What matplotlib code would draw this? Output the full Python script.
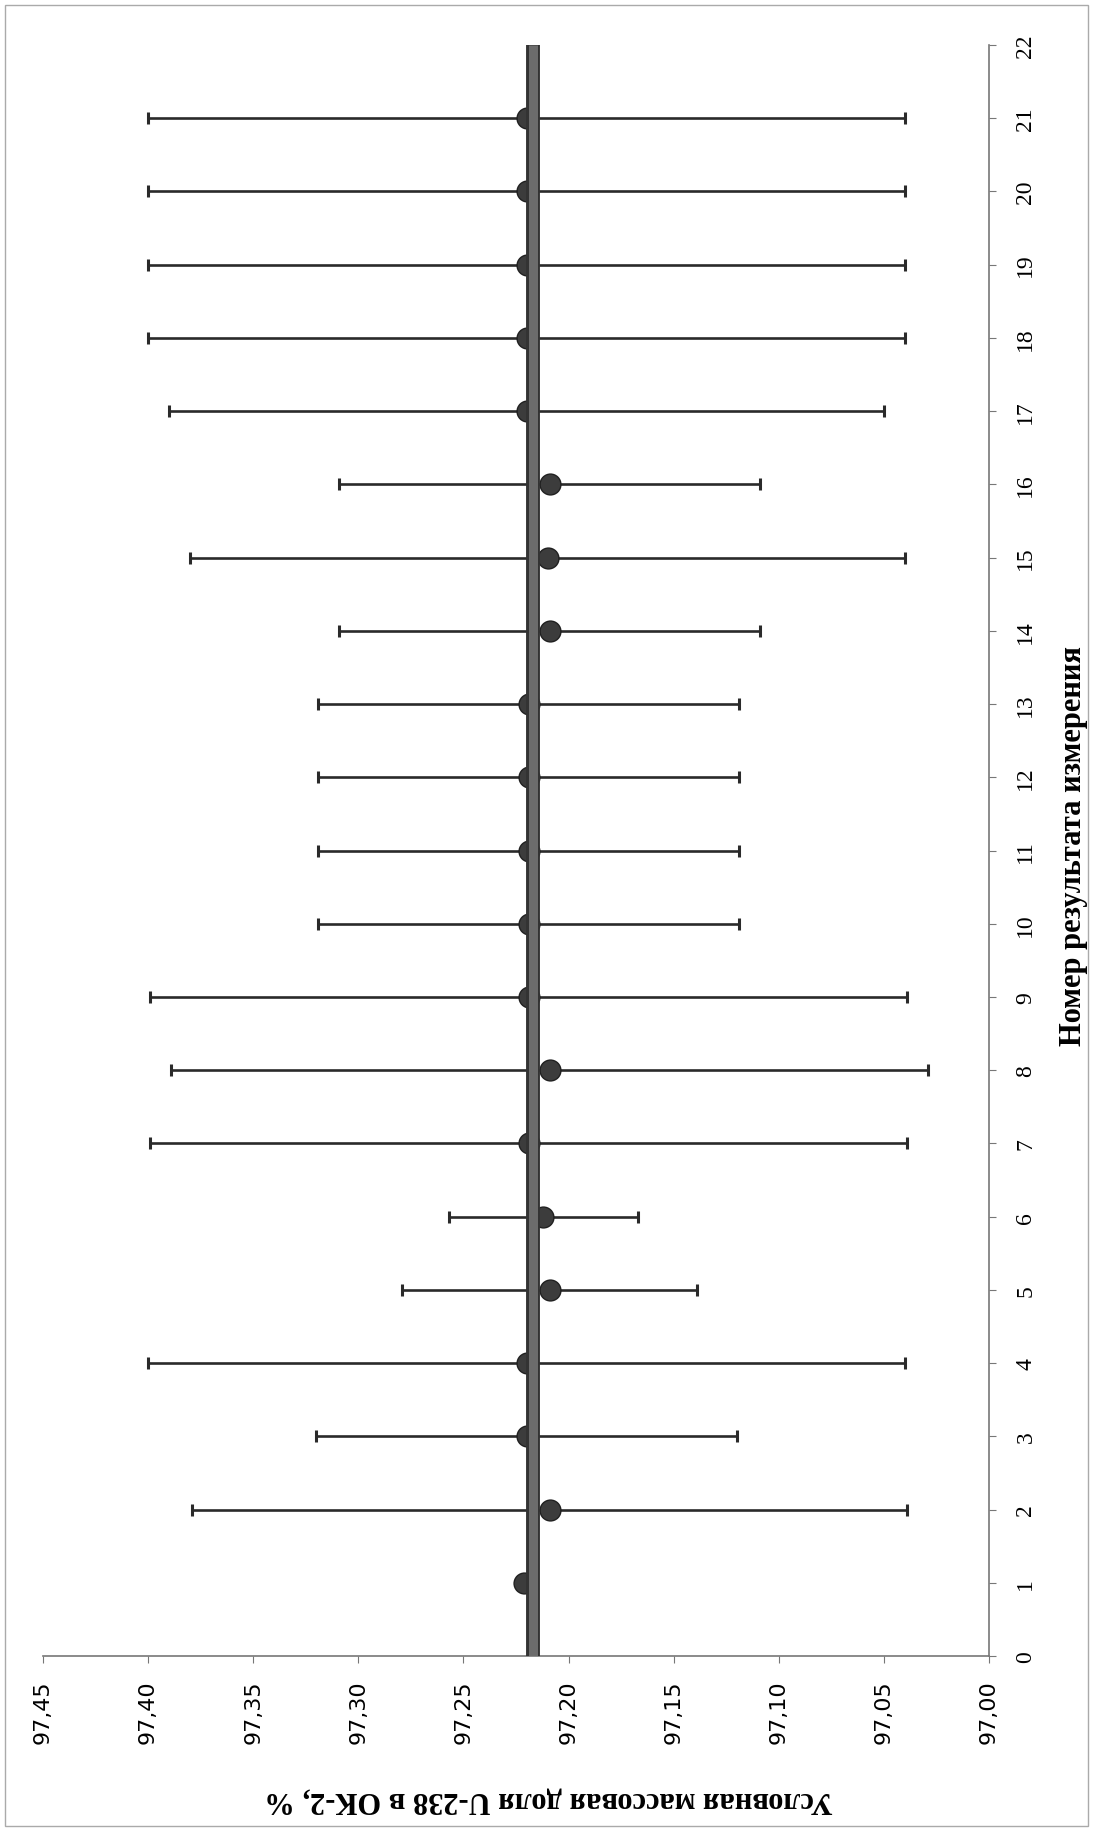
import matplotlib
matplotlib.use('Agg')
import matplotlib.pyplot as plt
from matplotlib.patches import Rectangle

# measurement numbers, values (%) and half-widths of the uncertainty bars
numbers = list(range(1, 22))
values = [97.221, 97.209, 97.220, 97.220, 97.209, 97.212, 97.219, 97.209,
          97.219, 97.219, 97.219, 97.219, 97.219, 97.209, 97.210, 97.209,
          97.220, 97.220, 97.220, 97.220, 97.220]
errors = [0.0, 0.17, 0.10, 0.18, 0.07, 0.045, 0.18, 0.18, 0.18, 0.10, 0.10,
          0.10, 0.10, 0.10, 0.17, 0.10, 0.17, 0.18, 0.18, 0.18, 0.18]
ref_value = 97.217
value_ticks = [97.45, 97.40, 97.35, 97.30, 97.25, 97.20, 97.15, 97.10, 97.05, 97.00]
number_ticks = list(range(0, 23))

fig = plt.figure(figsize=(10.94, 18.31), dpi=100)
ax = fig.add_axes([43 / 1094, 1 - 1657 / 1831, (989 - 43) / 1094, (1657 - 46) / 1831])

# error bars (point 1 has none)
for n, v, e in zip(numbers, values, errors):
    if e > 0:
        ax.errorbar(v, n, xerr=e, fmt='none', ecolor='#2a2a2a', elinewidth=1.9,
                    capsize=4, capthick=2.2, zorder=2)

ax.plot(values, numbers, 'o', color='#3c3c3c', markeredgecolor='#202020',
        markersize=15, zorder=3)

# reference value line
ax.plot([ref_value, ref_value], [0, 22], color='#333333', lw=10,
        solid_capstyle='butt', zorder=4)
ax.plot([ref_value, ref_value], [0, 22], color='#6c6c6c', lw=6.5,
        solid_capstyle='butt', zorder=5)

ax.set_xlim(97.45, 97.00)
ax.set_ylim(0, 22)
ax.set_xticks(value_ticks)
ax.set_xticklabels([('%.2f' % t).replace('.', ',') for t in value_ticks],
                   rotation=90, fontsize=16, family='DejaVu Sans')
ax.set_yticks(number_ticks)
ax.set_yticklabels([str(t) for t in number_ticks], rotation=90, fontsize=17,
                   family='Liberation Serif', va='center')
ax.yaxis.tick_right()

for s in ['top', 'left']:
    ax.spines[s].set_visible(False)
for s in ['bottom', 'right']:
    ax.spines[s].set_color('#777777')
    ax.spines[s].set_linewidth(1.2)
ax.tick_params(axis='x', direction='out', length=5, color='#777777', pad=12)
ax.tick_params(axis='y', direction='out', length=5, color='#777777', pad=14)

fig.text(1073 / 1094, 1 - 846 / 1831, 'Номер результата измерения', rotation=90,
         ha='center', va='center', fontsize=22, fontweight='bold',
         family='Liberation Serif')
fig.text(549 / 1094, 1 - 1800 / 1831, 'Условная массовая доля U-238 в ОК-2, %',
         rotation=180, ha='center', va='center', fontsize=22, fontweight='bold',
         family='Liberation Serif')

# thin frame around the whole chart
fig.patches.append(Rectangle((5 / 1094, 4 / 1831), 1083 / 1094, 1821 / 1831,
                             transform=fig.transFigure, fill=False,
                             edgecolor='#aaaaaa', lw=1))

fig.savefig('out.png', dpi=100)
